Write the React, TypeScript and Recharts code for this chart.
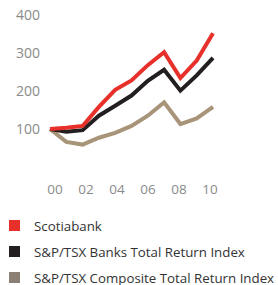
import React from "react";
import { LineChart, Line, XAxis, YAxis } from "recharts";

const years = [2000, 2001, 2002, 2003, 2004, 2005, 2006, 2007, 2008, 2009, 2010];
const scotiabank = [100, 103, 108, 158, 203, 228, 268, 302, 234, 280, 352];
const banksIndex = [100, 93, 97, 135, 161, 188, 227, 256, 201, 241, 287];
const compositeIndex = [100, 66, 59, 77, 90, 108, 135, 170, 113, 128, 158];
const yTicks = [100, 200, 300, 400];
const labelTicks = [2000, 2002, 2004, 2006, 2008, 2010];
const markTicks = [2000.5, 2001.5, 2002.5, 2003.5, 2004.5, 2005.5, 2006.5, 2007.5, 2008.5, 2009.5];

const seriesNames = ["Scotiabank", "S&P/TSX Banks Total Return Index", "S&P/TSX Composite Total Return Index"];
const lineColors = ["#e8302a", "#231f20", "#a89478"];
const legendColors = ["#e8302a", "#231f20", "#8c7f73"];

const data = years.map((y, i) => ({
  year: y,
  s: scotiabank[i],
  b: banksIndex[i],
  c: compositeIndex[i],
}));

const FONT = "'Open Sans', sans-serif";

export default function App() {
  return (
    <div style={{ position: "absolute", left: 0, top: 0, width: 278, height: 285, background: "#fff", fontFamily: FONT, overflow: "hidden" }}>
      <LineChart width={278} height={200} data={data} margin={{ top: 15, right: 58, bottom: 3, left: 0 }}>
        <XAxis
          xAxisId="marks"
          dataKey="year"
          type="number"
          domain={[2000, 2010]}
          ticks={markTicks}
          padding={{ left: 6, right: 7 }}
          height={0}
          mirror
          tick={false}
          tickSize={4}
          axisLine={{ stroke: "#999", strokeWidth: 1 }}
          tickLine={{ stroke: "#999", strokeWidth: 1 }}
        />
        <XAxis
          xAxisId="labels"
          dataKey="year"
          type="number"
          domain={[2000, 2010]}
          ticks={labelTicks}
          padding={{ left: 11, right: 10 }}
          height={30}
          axisLine={false}
          tickLine={false}
          tickSize={0}
          tickMargin={17}
          interval={0}
          tickFormatter={(v: number) => String(v).slice(2)}
          tick={{ fill: "#8a8a8a", fontSize: 13.5, fontFamily: FONT }}
        />
        <YAxis
          domain={[0, 400]}
          ticks={yTicks}
          width={44}
          axisLine={false}
          tickLine={false}
          tickSize={0}
          tickMargin={4}
          tick={{ fill: "#8a8a8a", fontSize: 14, fontFamily: FONT }}
        />
        <Line xAxisId="marks" dataKey="c" stroke={lineColors[2]} strokeWidth={4} dot={false} isAnimationActive={false} strokeLinejoin="miter" />
        <Line xAxisId="marks" dataKey="b" stroke={lineColors[1]} strokeWidth={4} dot={false} isAnimationActive={false} strokeLinejoin="miter" />
        <Line xAxisId="marks" dataKey="s" stroke={lineColors[0]} strokeWidth={4} dot={false} isAnimationActive={false} strokeLinejoin="miter" />
      </LineChart>
      {seriesNames.map((n, i) => (
        <div
          key={n}
          style={{
            position: "absolute",
            left: 9,
            top: 217.5 + i * 26,
            height: 16,
            lineHeight: "16px",
            display: "flex",
            alignItems: "center",
            fontSize: 13.3,
            color: "#333",
            whiteSpace: "nowrap",
          }}
        >
          <span style={{ display: "inline-block", width: 11, height: 11, background: legendColors[i], marginRight: 14 }} />
          <span>{n}</span>
        </div>
      ))}
    </div>
  );
}
